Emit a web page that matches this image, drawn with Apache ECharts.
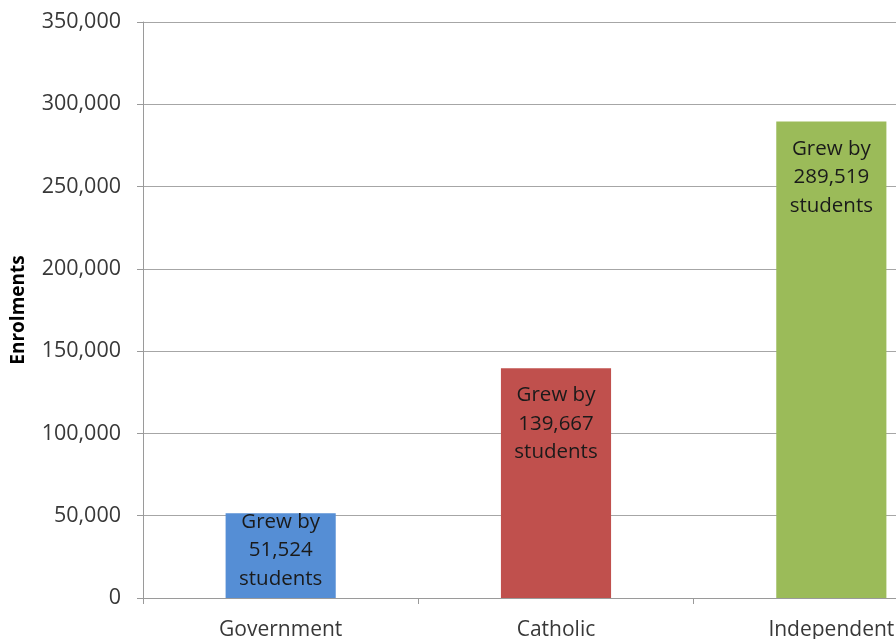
<!DOCTYPE html>
<html>
<head>
<meta charset="utf-8">
<style>
  html, body { margin: 0; padding: 0; background: #ffffff; }
  #chart { width: 896px; height: 639px; }
</style>
<script src="https://cdn.jsdelivr.net/npm/echarts@6/dist/echarts.min.js"></script>
</head>
<body>
<div id="chart"></div>
<script>
// Enrolment growth by school sector
const sectors = ['Government', 'Catholic', 'Independent'];
const growth = [51524, 139667, 289519];
const sectorColors = ['#558ED5', '#C0504D', '#9BBB59'];
const yTicks = { min: 0, max: 350000, interval: 50000 };
const axisTitle = 'Enrolments';

const fmt = v => Number(v).toLocaleString('en-US');
const FONT = '"Open Sans", "Noto Sans", sans-serif';

const chart = echarts.init(document.getElementById('chart'), null, { renderer: 'canvas' });

// Short bars get the label centred; tall bars get it near the top
const barData = growth.map((v, i) => ({
  value: v,
  itemStyle: { color: sectorColors[i] },
  label: i === 0
    ? { position: 'inside', offset: [0, -5] }
    : { position: 'insideTop', distance: 13 }
}));

chart.setOption({
  animation: false,
  backgroundColor: '#ffffff',
  grid: {
    left: 143, top: 22, bottom: 41, width: 826,
    containLabel: false,
    outerBoundsMode: 'none'
  },
  xAxis: {
    type: 'category',
    data: sectors,
    axisLine: { show: true, lineStyle: { color: '#9a9a9a', width: 1 } },
    axisTick: { show: true, alignWithLabel: false, length: 6, lineStyle: { color: '#9a9a9a' } },
    axisLabel: { color: '#383838', fontFamily: FONT, fontSize: 21, margin: 22 },
    splitLine: { show: false }
  },
  yAxis: {
    type: 'value',
    min: yTicks.min,
    max: yTicks.max,
    interval: yTicks.interval,
    name: axisTitle,
    nameLocation: 'middle',
    nameGap: 115,
    nameRotate: 90,
    nameTextStyle: { color: '#000000', fontFamily: FONT, fontSize: 19, fontWeight: 'bold' },
    axisLine: { show: true, lineStyle: { color: '#9a9a9a', width: 1 } },
    axisTick: { show: true, length: 6, lineStyle: { color: '#9a9a9a' } },
    axisLabel: { color: '#383838', fontFamily: FONT, fontSize: 21.5, margin: 22, formatter: fmt },
    splitLine: { show: true, lineStyle: { color: '#a6a6a6', width: 1 } }
  },
  series: [{
    type: 'bar',
    data: barData,
    barWidth: '40%',
    label: {
      show: true,
      color: '#1a1a1a',
      fontFamily: FONT,
      fontSize: 20.5,
      lineHeight: 28.5,
      align: 'center',
      formatter: p => 'Grew by\n' + fmt(p.value) + '\nstudents'
    }
  }]
});
</script>
</body>
</html>
